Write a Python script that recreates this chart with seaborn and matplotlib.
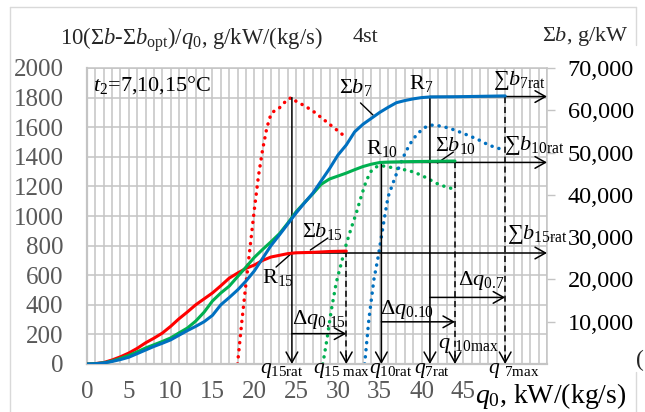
import matplotlib
matplotlib.use('Agg')
import matplotlib.pyplot as plt
import seaborn as sns
from matplotlib.ticker import MultipleLocator, FuncFormatter
from matplotlib.lines import Line2D

# ---------------- data ----------------
x_ticks = [0, 5, 10, 15, 20, 25, 30, 35, 40, 45]
left_ticks = list(range(0, 2001, 200))
right_ticks = [10000, 20000, 30000, 40000, 50000, 60000, 70000]

# Sigma b (g/kW), right axis
sb15_q = [0, 1, 2, 3, 4, 5, 6, 7, 8, 9, 10, 11, 12, 13, 14, 15, 16, 17, 18, 19, 20, 21, 22, 23, 24, 25, 27, 29, 31]
sb15 = [0, 100, 350, 950, 1700, 2600, 3700, 5000, 6100, 7300, 8900, 10700, 12300, 14000, 15400, 16800,
        18500, 20300, 21500, 22600, 23400, 24500, 25300, 25700, 26100, 26300, 26400, 26600, 26700]

sb10_q = [0, 1, 2, 3, 4, 5, 6, 7, 8, 9, 10, 11, 12, 13, 14, 15, 16, 17, 18, 19, 20, 21, 22, 23, 24, 25,
          26, 27, 28, 29, 30, 31, 32, 33, 34, 35, 36, 38, 40, 42, 44]
sb10 = [0, 70, 280, 700, 1330, 2030, 2870, 3780, 4550, 5320, 6160, 7350, 8500, 10150, 12250, 14900,
        16800, 18400, 20650, 22900, 25200, 27100, 28900, 30800, 33300, 36000, 38150, 40250, 42500, 43750,
        44450, 45150, 45950, 46700, 47250, 47650, 47750, 47850, 47900, 47950, 48000]

sb7_q = [0, 1, 2, 3, 4, 5, 6, 7, 8, 9, 10, 11, 12, 13, 14, 15, 16, 17, 18, 19, 20, 21, 22, 23, 24, 25,
         26, 27, 28, 29, 30, 31, 32, 33, 34, 35, 36, 37, 38, 39, 40, 41, 44, 47, 50]
sb7 = [0, 70, 250, 600, 1050, 1600, 2450, 3300, 4150, 4900, 5700, 6800, 7900, 8900, 10000, 11500,
       14000, 15700, 17500, 19600, 22000, 25000, 28000, 30500, 33100, 35700, 38100, 40400, 43300, 46200,
       49400, 51800, 54900, 56700, 58100, 59500, 60700, 61800, 62300, 62700, 63000, 63150, 63200, 63300, 63400]

# 10(Sb - Sb_opt)/q0, left axis (dotted)
d15_q = [18, 18.5, 19, 19.5, 20, 20.5, 21, 21.5, 22, 22.5, 23, 23.5, 24, 24.5, 25, 26, 27, 28, 29, 30, 31]
d15 = [0, 280, 540, 790, 1040, 1270, 1450, 1595, 1690, 1715, 1730, 1760, 1790, 1800, 1775, 1745, 1710,
       1665, 1620, 1575, 1530]

d10_q = [28.2, 28.7, 29.2, 29.8, 30.4, 31, 31.6, 32.2, 32.8, 33.4, 34, 34.6, 35.2, 36, 37, 38, 39, 40,
         41, 42, 43, 44]
d10 = [0, 170, 360, 550, 680, 810, 920, 1020, 1135, 1240, 1305, 1332, 1340, 1332, 1322, 1312, 1298, 1275,
       1245, 1215, 1195, 1180]

d7_q = [33.2, 33.7, 34.3, 34.8, 35.2, 35.6, 36, 36.7, 37.3, 38, 38.5, 39, 39.6, 40.3, 41, 42, 43, 44,
        45, 46, 47, 48, 49, 50]
d7 = [0, 300, 570, 720, 860, 1000, 1130, 1240, 1330, 1420, 1475, 1520, 1560, 1595, 1615, 1610, 1598,
      1580, 1558, 1535, 1510, 1480, 1460, 1445]

# characteristic points
q15rat, q15max, q10rat, q10max, q7rat, q7max = 24.5, 31, 35.2, 44, 41, 50
lev15, lev10, lev7 = 750, 1362, 1807          # Sigma b levels in left-axis units
top15, end15 = 1800, 762
dq15, dq10, dq7 = 205, 285, 450

# ---------------- style ----------------
sns.set_style('white')
plt.rcParams['font.family'] = ['Liberation Serif', 'DejaVu Serif']
plt.rcParams['mathtext.fontset'] = 'custom'
plt.rcParams['mathtext.rm'] = 'Liberation Serif'
plt.rcParams['mathtext.it'] = 'Liberation Serif:italic'
plt.rcParams['mathtext.bf'] = 'Liberation Serif:bold'

W, H = 645, 412
fig = plt.figure(figsize=(6.45, 4.12), dpi=100)
ax = fig.add_axes([87 / W, 1 - 364 / H, 460 / W, 296 / H])
ax2 = ax.twinx()

RED, GREEN, BLUE = '#ff0000', '#00b050', '#0070c0'
GRID = '#c4c4c4'

# axes setup
ax.set_xlim(0, 55)
ax.set_ylim(0, 2000)
ax.set_xticks(x_ticks)
ax.xaxis.set_minor_locator(MultipleLocator(1))
ax.set_yticks(left_ticks)
ax.grid(which='both', axis='x', color=GRID, lw=1.1)
ax.grid(which='major', axis='y', color=GRID, lw=1.1)
ax.set_axisbelow(True)
for s in ax.spines.values():
    s.set_color(GRID)
    s.set_linewidth(1.1)
ax.spines['left'].set_linewidth(1.6)
ax.spines['bottom'].set_linewidth(1.6)
ax.tick_params(axis='both', which='both', length=0)
ax.tick_params(axis='y', pad=17, labelsize=18, labelcolor='#595959')
ax.tick_params(axis='x', pad=12, labelsize=18, labelcolor='#595959')

ax2.set_ylim(0, 70000)
ax2.set_yticks(right_ticks)
ax2.yaxis.set_major_formatter(FuncFormatter(lambda v, p: f"{int(v):,}"))
ax2.tick_params(axis='y', length=6, width=1, color=GRID, pad=9, labelsize=17.5, labelcolor='black')
for s in ax2.spines.values():
    s.set_visible(False)

# ---------------- curves ----------------
dot = dict(lw=2.5, linestyle=(0, (0.05, 2.0)), dash_capstyle='round')
sns.lineplot(x=d15_q, y=d15, ax=ax, color=RED, estimator=None, sort=False, legend=False, **dot)
sns.lineplot(x=d10_q, y=d10, ax=ax, color=GREEN, estimator=None, sort=False, legend=False, **dot)
sns.lineplot(x=d7_q, y=d7, ax=ax, color=BLUE, estimator=None, sort=False, legend=False, **dot)

sns.lineplot(x=sb15_q, y=sb15, ax=ax2, color=RED, lw=2.2, estimator=None, sort=False, legend=False)
sns.lineplot(x=sb10_q, y=sb10, ax=ax2, color=GREEN, lw=2.2, estimator=None, sort=False, legend=False)
sns.lineplot(x=sb7_q, y=sb7, ax=ax2, color=BLUE, lw=2.2, estimator=None, sort=False, legend=False)
ax.set_xlabel('')
ax.set_ylabel('')
ax2.set_ylabel('')
ax2.set_xlabel('')

# ---------------- annotations ----------------
AP = dict(arrowstyle='->,head_length=0.75,head_width=0.42', color='black', lw=1.1,
          shrinkA=0, shrinkB=0, mutation_scale=10)


def arrow(x0, y0, x1, y1):
    ax.annotate('', xy=(x1, y1), xytext=(x0, y0), arrowprops=AP, annotation_clip=False, zorder=4)


def dashed_arrow(x, y0):
    ax.plot([x, x], [y0, 40], color='black', lw=1.1, linestyle=(0, (4, 2.5)), zorder=4)
    arrow(x, 60, x, 0)


def line(xs, ys):
    ax.plot(xs, ys, color='black', lw=1.0, zorder=4)


# vertical solid arrows (rated)
arrow(q15rat, top15, q15rat, 0)
arrow(q10rat, lev10, q10rat, 0)
arrow(q7rat, lev7, q7rat, 0)
# horizontal Sigma b arrows
arrow(q15rat, lev15, 55, lev15)
arrow(q10rat, lev10, 55, lev10)
arrow(q7rat, lev7, 55, lev7)
# dashed (max)
dashed_arrow(q15max, end15)
dashed_arrow(q10max, lev10)
dashed_arrow(q7max, lev7)
# delta q arrows
arrow(q15rat, dq15, q15max, dq15)
arrow(q10rat, dq10, q10max, dq10)
arrow(q7rat, dq7, q7max, dq7)
# leader lines
line([32.7, 34.2], [1764, 1682])
line([41.9, 43.8], [1358, 1432])
line([26.7, 28.8], [770, 851])
line([22.6, 24.5], [655, 750])


def T(x, y, s, size=16, ha='left', va='center'):
    ax2.text(x, y, s, transform=ax.transData, fontsize=size, ha=ha, va=va, color='black',
             clip_on=False, zorder=6)


T(0.7, 1885, r"$t_2$=7,10,15°C")
T(32.1, 1868, r"Σ$b_7$", ha='center')
T(40.0, 1895, r"$\mathrm{R}_7$", ha='center')
T(48.6, 1915, r"∑$b_{\rm 7rat}$")
T(33.3, 1458, r"$\mathrm{R}_{10}$")
T(41.6, 1478, r"Σ$b_{10}$")
T(49.8, 1478, r"∑$b_{\rm 10rat}$")
T(50.2, 877, r"∑$b_{\rm 15rat}$")
T(25.7, 897, r"Σ$b_{15}$")
T(20.9, 586, r"$\mathrm{R}_{15}$")
T(24.5, 300, r"Δ$q_{\rm 0.15}$")
T(35.0, 370, r"Δ$q_{\rm 0.10}$")
T(44.3, 566, r"Δ$q_{\rm 0.7}$")
T(42.0, 125, r"$q\ _{\rm 10max}$")
T(20.7, -42, r"$q_{\rm 15rat}$", size=15.5)
T(27.0, -42, r"$q_{\rm 15\ max}$", size=15.5)
T(33.7, -42, r"$q_{\rm 10rat}$", size=15.5)
T(39.1, -42, r"$q_{\rm 7rat}$", size=15.5)
T(48.0, -42, r"$q\ _{\rm 7max}$", size=15.5)
T(46.4, -215, r"$q_0$, kW/(kg/s)", size=20)

# ---------------- figure texts and border ----------------
fig.text(60 / W, 1 - 40 / H, r"10(Σ$b$-Σ$b_{\rm opt}$)/$q_0$, g/kW/(kg/s)", fontsize=16.3, va='center')
fig.text(353 / W, 1 - 38 / H, "4st", fontsize=16, va='center')
fig.text(542 / W, 1 - 37 / H, r"Σ$b$, g/kW", fontsize=16, va='center')
fig.text(636 / W, 1 - 360 / H, "(", fontsize=17, va='center')

BC = '#d9d9d9'
fig.add_artist(Line2D([10 / W, 10 / W], [0, 1 - 7 / H], color=BC, lw=1, transform=fig.transFigure))
fig.add_artist(Line2D([10 / W, 636 / W], [1 - 7 / H, 1 - 7 / H], color=BC, lw=1, transform=fig.transFigure))
fig.add_artist(Line2D([636 / W, 636 / W], [1 - 7 / H, 1 - 45 / H], color=BC, lw=1, transform=fig.transFigure))
fig.add_artist(Line2D([636 / W, 636 / W], [1 - 372 / H, 0], color=BC, lw=1, transform=fig.transFigure))

fig.savefig('out.png', dpi=100)
